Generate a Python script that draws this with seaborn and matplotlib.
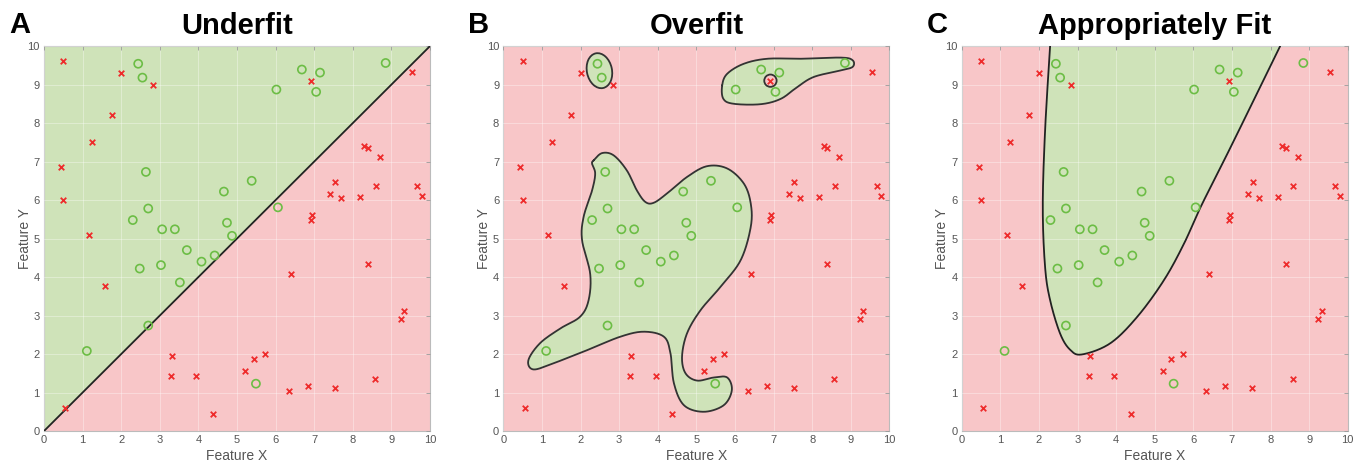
import numpy as np
import pandas as pd
import matplotlib
matplotlib.use('Agg')
import matplotlib.pyplot as plt
from matplotlib.patches import Ellipse, Circle
import seaborn as sns

# Training points (same for all three panels)
green_x = [2.44, 2.55, 2.64, 2.70, 2.30, 3.06, 3.39, 3.70, 4.08, 4.42, 3.03, 2.48, 3.52,
           2.70, 1.11, 5.49, 4.66, 5.38, 4.74, 4.87, 6.06, 6.02, 6.68, 7.15, 7.05, 8.85]
green_y = [9.54, 9.18, 6.73, 5.78, 5.48, 5.24, 5.24, 4.70, 4.40, 4.56, 4.31, 4.22, 3.86,
           2.74, 2.08, 1.23, 6.22, 6.50, 5.41, 5.07, 5.81, 8.87, 9.39, 9.31, 8.81, 9.56]
red_x = [0.50, 2.00, 2.83, 1.75, 1.25, 0.44, 0.50, 1.17, 1.57, 0.55, 3.32, 3.29, 3.95,
         4.38, 5.21, 5.43, 5.72, 6.34, 6.83, 7.53, 8.57, 6.41, 8.39, 9.24, 9.33, 6.92,
         6.94, 6.92, 7.41, 7.54, 7.69, 8.19, 8.59, 8.30, 8.39, 8.70, 9.54, 9.67, 9.79]
red_y = [9.60, 9.30, 9.00, 8.20, 7.50, 6.85, 5.99, 5.10, 3.77, 0.61, 1.95, 1.43, 1.44,
         0.44, 1.56, 1.87, 2.01, 1.04, 1.16, 1.13, 1.34, 4.07, 4.33, 2.92, 3.11, 9.09,
         5.61, 5.48, 6.16, 6.46, 6.05, 6.08, 6.37, 7.40, 7.34, 7.12, 9.33, 6.37, 6.11]

# Panel A: linear boundary y = slope * x + intercept
line_slope = 1.0
line_intercept = 0.0

# Panel B: overfit boundary outlines
blob_main_x = [2.34, 2.56, 2.86, 3.20, 3.46, 3.68, 3.90, 4.24, 4.76, 5.28, 5.80, 6.23, 6.41,
               6.41, 6.15, 5.63, 5.11, 4.76, 4.63, 4.72, 5.02, 5.45, 5.80, 5.92, 5.71, 5.19,
               4.68, 4.42, 4.33, 4.16, 3.64, 3.03, 2.17, 1.30, 0.78, 0.65, 0.95, 1.47, 1.99,
               2.21, 2.25, 2.04, 2.08, 2.30, 2.38, 2.30]
blob_main_y = [7.03, 7.22, 7.16, 6.77, 6.25, 5.95, 5.93, 6.17, 6.60, 6.88, 6.82, 6.43, 5.91,
               5.30, 4.44, 3.75, 3.14, 2.54, 1.93, 1.50, 1.31, 1.39, 1.39, 1.06, 0.67, 0.50,
               0.67, 1.24, 2.02, 2.45, 2.58, 2.45, 2.10, 1.76, 1.60, 1.84, 2.28, 2.66, 2.97,
               3.40, 4.09, 4.96, 5.56, 6.25, 6.69, 6.94]
blob_top_x = [5.67, 5.80, 6.23, 6.84, 7.71, 8.75, 9.05, 9.05, 8.75, 8.05, 7.62, 7.19, 6.67,
              5.97, 5.70]
blob_top_y = [8.98, 9.28, 9.54, 9.67, 9.67, 9.70, 9.63, 9.46, 9.37, 9.20, 8.94, 8.63, 8.49,
              8.50, 8.63]
islet_center = (2.49, 9.36)
islet_size = (0.65, 0.92)
islet_angle = 12
hole_center = (6.92, 9.10)
hole_radius = 0.16

# Panel C: curved boundary (open curve, closed along the top edge)
curve_x = [2.29, 2.16, 2.10, 2.16, 2.29, 2.55, 2.81, 3.12, 3.85, 4.55, 5.24, 5.76, 6.19,
           6.97, 8.25]
curve_y = [10.0, 7.81, 5.82, 4.26, 3.40, 2.53, 2.11, 1.99, 2.28, 2.97, 3.92, 4.87, 5.82,
           7.38, 10.0]

titles = ['Underfit', 'Overfit', 'Appropriately Fit']
letters = ['A', 'B', 'C']

green_bg = '#cfe3b9'
red_bg = '#f8c6c8'
green_pt = '#6cbd45'
red_pt = '#ee2b2b'
gray = '#555555'


def catmull_rom(px, py, closed=True, n=24):
    P = np.column_stack([px, py]).astype(float)
    if not closed:
        P = np.vstack([P[0], P, P[-1]])
    N = len(P)
    segs = []
    rng = range(N) if closed else range(1, N - 2)
    for i in rng:
        p0, p1, p2, p3 = P[i - 1], P[i], P[(i + 1) % N], P[(i + 2) % N]
        t = np.linspace(0, 1, n, endpoint=False)[:, None]
        segs.append(0.5 * (2 * p1 + (-p0 + p2) * t + (2 * p0 - 5 * p1 + 4 * p2 - p3) * t ** 2
                           + (-p0 + 3 * p1 - 3 * p2 + p3) * t ** 3))
    if not closed:
        segs.append(P[-2][None, :])
    out = np.vstack(segs)
    if closed:
        out = np.vstack([out, out[:1]])
    return out[:, 0], out[:, 1]


sns.set_theme(style='white')
plt.rcParams['font.family'] = ['Liberation Sans', 'DejaVu Sans']

points = pd.concat([
    pd.DataFrame({'x': green_x, 'y': green_y, 'cls': 'green'}),
    pd.DataFrame({'x': red_x, 'y': red_y, 'cls': 'red'}),
])

fig = plt.figure(figsize=(13.66, 4.68), dpi=100)
lefts = [44 / 1366, 503.3 / 1366, 961.7 / 1366]
letter_x = [9 / 1366, 468 / 1366, 927 / 1366]
axes = [fig.add_axes([l, 0.079, 0.2826, 0.8226]) for l in lefts]

for i, ax in enumerate(axes):
    ax.set_facecolor(red_bg)

    if i == 0:
        xs = np.array([0.0, 10.0])
        ys = line_slope * xs + line_intercept
        ax.fill_between(xs, ys, 10, color=green_bg, lw=0, zorder=1)
        ax.plot(xs, ys, color='#222222', lw=1.3, zorder=3)
    elif i == 1:
        for bx, by in [(blob_main_x, blob_main_y), (blob_top_x, blob_top_y)]:
            sx, sy = catmull_rom(bx, by)
            ax.fill(sx, sy, color=green_bg, lw=0, zorder=1)
            ax.plot(sx, sy, color='#333333', lw=1.3, zorder=3)
        ax.add_patch(Ellipse(islet_center, islet_size[0], islet_size[1], angle=islet_angle,
                             facecolor=green_bg, edgecolor='#333333', lw=1.3, zorder=3))
        ax.add_patch(Circle(hole_center, hole_radius, facecolor=red_bg,
                            edgecolor='#333333', lw=1.3, zorder=3))
    else:
        sx, sy = catmull_rom(curve_x, curve_y, closed=False)
        ax.fill(np.r_[sx, sx[0]], np.r_[sy, sy[0]], color=green_bg, lw=0, zorder=1)
        ax.plot(sx, sy, color='#222222', lw=1.3, zorder=3)

    g = points[points['cls'] == 'green']
    r = points[points['cls'] == 'red']
    sns.scatterplot(data=g, x='x', y='y', marker='o', s=34, facecolor='none',
                    edgecolor=green_pt, linewidth=1.2, ax=ax, zorder=5, legend=False)
    sns.scatterplot(data=r, x='x', y='y', marker='x', s=16, color=red_pt,
                    edgecolor=red_pt, linewidth=1.3, ax=ax, zorder=5, legend=False)

    ax.set_xlim(0, 10)
    ax.set_ylim(0, 10)
    ax.set_xticks(range(11))
    ax.set_yticks(range(11))
    ax.grid(True, color='white', alpha=0.35, lw=0.7)
    ax.set_axisbelow(False)
    ax.tick_params(direction='in', length=3, width=0.6, color='#999999', labelcolor=gray,
                   labelsize=8, top=True, right=True, pad=3)
    for s in ax.spines.values():
        s.set_color('#bbbbbb')
        s.set_linewidth(0.8)
    ax.set_xlabel('Feature X', fontsize=10, color=gray, labelpad=3)
    ax.set_ylabel('Feature Y', fontsize=10, color=gray, labelpad=-3)
    ax.set_title(titles[i], fontsize=21, fontweight='bold', color='black', pad=9)
    fig.text(letter_x[i], 1 - 33 / 468, letters[i], fontsize=21, fontweight='bold',
             color='black', ha='left', va='baseline')

fig.savefig('out.png', dpi=100)
